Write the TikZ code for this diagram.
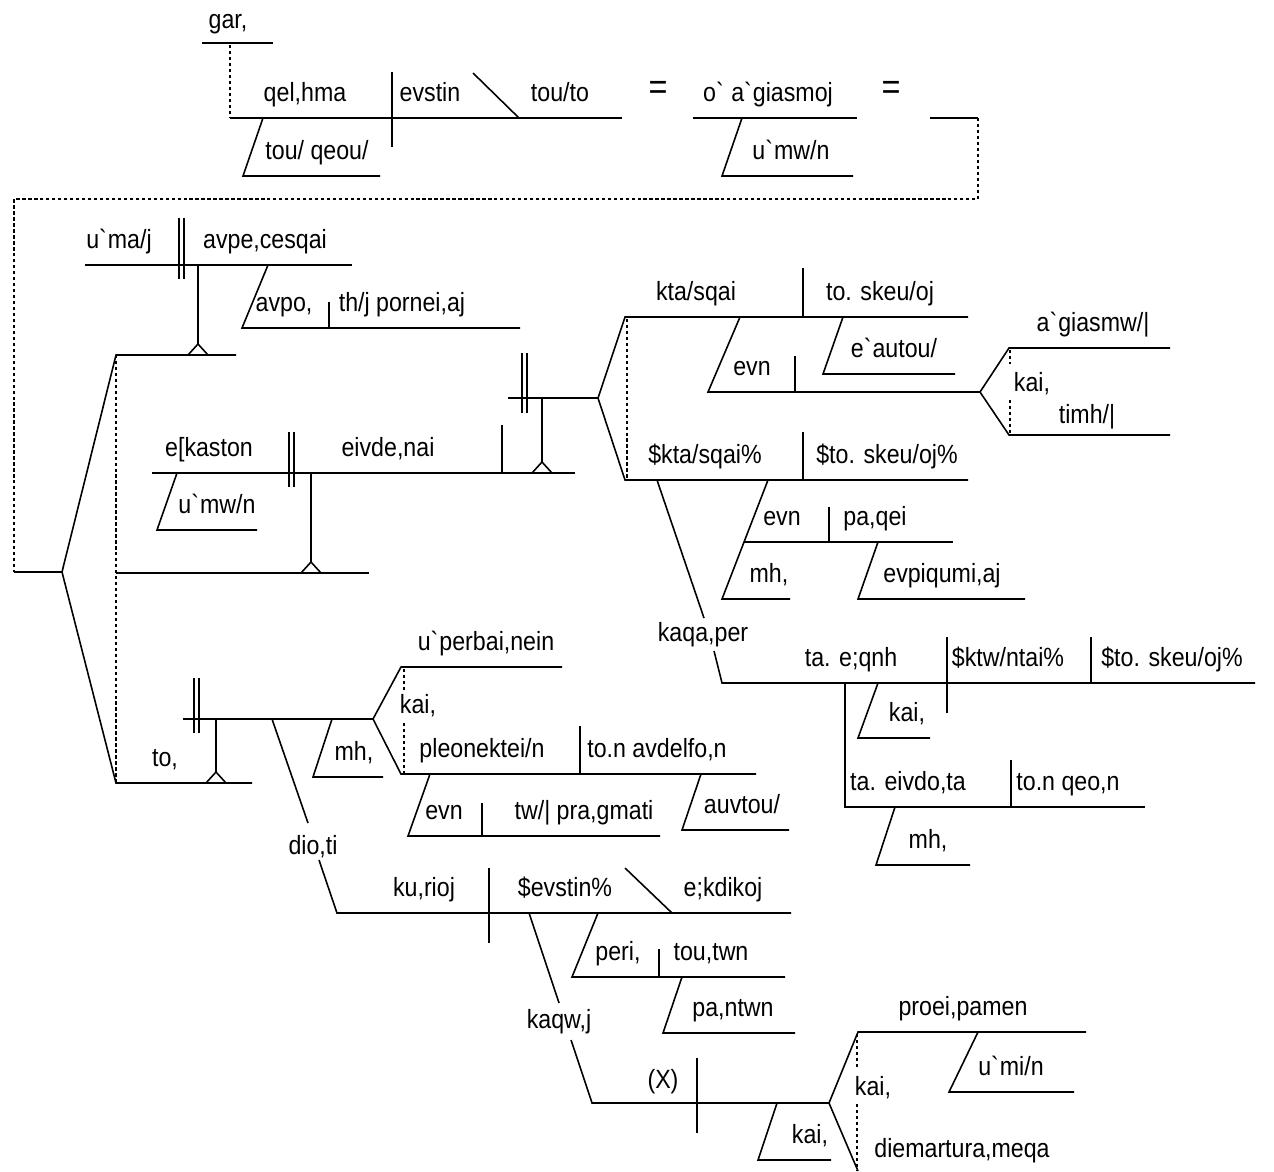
\documentclass[tikz,border=0pt]{standalone}
\usepackage{fontspec}
\setmainfont{Liberation Sans}[FakeStretch=0.88]
\newcommand{\grv}{\textasciigrave}
\newcommand{\tent}[1]{\draw (#1) ++(-10,0) -- ++(10,-11) -- ++(10,11);}
\newcommand{\wrd}[3]{\node[word] (#1) at (#2) {#3};}
\tikzset{
	word/.style={anchor=base, inner sep=0pt, font=\fontsize{15}{18}\selectfont},
	equal/.style={word, font=\fontsize{21}{24}\selectfont},
	dots/.style={line width=1.2pt, dash pattern=on 1.9pt off 1.5pt},
}

\begin{document}
\begin{tikzpicture}[x=0.02cm, y=-0.02cm, line width=0.9pt]
	\useasboundingbox (0,0) rectangle (1274,1171);
	%TOP CLAUSE
	\draw (202,43) -- (273,43);
	\draw[dots] (230,45) -- (230,118);
	\draw (230,118) -- (622,118);
	\draw (392,72) -- (392,147);
	\draw (473,73) -- (519,118);
	\draw (263,118) -- (243,176) -- (380,176);
	\draw (693,118) -- (857,118);
	\draw (742,118) -- (722,176) -- (853,176);
	\draw (930,118) -- (978,118);
	\draw[dots] (978,118) -- (978,199) -- (14,199) -- (14,572);
	\wrd{gar}{228,28}{gar,}
	\wrd{thelema}{305,101}{qel,hma}
	\wrd{estin}{430,101}{evstin}
	\wrd{touto}{560,101}{tou/to}
	\node[equal] (eqA) at (658,99) {=};
	\wrd{hagiasmos}{768,101}{o\grv{} a\grv{}giasmoj}
	\node[equal] (eqB) at (891,99) {=};
	\wrd{theou}{317,159}{tou/ qeou/}
	\wrd{hymonA}{791,159}{u\grv{}mw/n}
	%LEFT FORK
	\draw (14,572) -- (62,572);
	\draw (236,355) -- (116,355) -- (62,572) -- (116,783) -- (252,783);
	\draw[dots] (116,355) -- (116,783);
	\draw (116,573) -- (369,573);
	%APECHESTHAI
	\draw (85,265) -- (352,265);
	\draw (179,218) -- (179,279);
	\draw (184,218) -- (184,279);
	\draw (198,265) -- (198,344);
	\tent{198,355}
	\draw (268,265) -- (242,328) -- (520,328);
	\draw (329,302) -- (329,328);
	\wrd{hymas}{119,248}{u\grv{}ma/j}
	\wrd{apechesthai}{265,248}{avpe,cesqai}
	\wrd{apo}{284,311}{avpo,}
	\wrd{porneias}{402,311}{th/j pornei,aj}
	%EIDENAI
	\draw (152,473) -- (575,473);
	\draw (289,432) -- (289,487);
	\draw (294,432) -- (294,487);
	\draw (177,473) -- (157,530) -- (257,530);
	\draw (311,473) -- (311,562);
	\tent{311,573}
	\draw (502,425) -- (502,473);
	\draw (542,398) -- (542,462);
	\tent{542,473}
	\wrd{hekaston}{209,456}{e[kaston}
	\wrd{eidenai}{388,456}{eivde,nai}
	\wrd{hymonB}{217,513}{u\grv{}mw/n}
	%KTASTHAI
	\draw (508,398) -- (598,398);
	\draw (522,353) -- (522,413);
	\draw (527,353) -- (527,413);
	\draw (968,317) -- (625,317) -- (598,398) -- (625,480) -- (968,480);
	\draw[dots] (627,319) -- (627,480);
	\draw (803,268) -- (803,317);
	\draw (740,317) -- (708,392) -- (980,392);
	\draw (795,356) -- (795,392);
	\draw (843,317) -- (823,374) -- (955,374);
	\draw (1170,348) -- (1009,348) -- (980,392) -- (1009,435) -- (1170,435);
	\draw[dots] (1010,350) -- (1010,364);
	\draw[dots] (1010,400) -- (1010,435);
	\draw (803,432) -- (803,480);
	\draw (768,480) -- (722,599) -- (790,599);
	\draw (744,542) -- (953,542);
	\draw (829,507) -- (829,542);
	\draw (878,542) -- (858,599) -- (1025,599);
	\wrd{ktasthai}{696,300}{kta/sqai}
	\wrd{skeuos}{880,300}{to. skeu/oj}
	\wrd{enA}{752,375}{evn}
	\wrd{heautou}{894,357}{e\grv{}autou/}
	\wrd{hagiasmo}{1093,331}{a\grv{}giasmw/|}
	\wrd{kaiA}{1032,391}{kai,}
	\wrd{time}{1087,423}{timh/|}
	\wrd{ktasthaiB}{705,463}{\$kta/sqai\%}
	\wrd{skeuosB}{887,463}{\$to. skeu/oj\%}
	\wrd{enB}{782,525}{evn}
	\wrd{pathei}{875,525}{pa,qei}
	\wrd{meA}{769,582}{mh,}
	\wrd{epithymias}{942,582}{evpiqumi,aj}
	%KATHAPER
	\draw (657,480) -- (704,618);
	\draw (714,651) -- (722,683) -- (1255,683);
	\draw (947,637) -- (947,713);
	\draw (1091,637) -- (1091,683);
	\draw (878,683) -- (858,738) -- (930,738);
	\draw (845,683) -- (845,807) -- (1145,807);
	\draw (1011,760) -- (1011,807);
	\draw (895,807) -- (876,865) -- (970,865);
	\wrd{kathaper}{703,641}{kaqa,per}
	\wrd{ethne}{851,666}{ta. e;qnh}
	\wrd{ktontai}{1008,666}{\$ktw/ntai\%}
	\wrd{skeuosC}{1172,666}{\$to. skeu/oj\%}
	\wrd{kaiB}{907,721}{kai,}
	\wrd{eidota}{908,790}{ta. eivdo,ta}
	\wrd{theon}{1068,790}{to.n qeo,n}
	\wrd{meB}{928,848}{mh,}
	%TO CLAUSE
	\draw (183,719) -- (373,719);
	\draw (194,678) -- (194,733);
	\draw (199,678) -- (199,733);
	\draw (216,719) -- (216,772);
	\tent{216,783}
	\draw (332,719) -- (313,777) -- (383,777);
	\draw (562,667) -- (401,667) -- (373,719) -- (401,774) -- (756,774);
	\draw[dots] (404,669) -- (404,692);
	\draw[dots] (404,723) -- (404,774);
	\draw (580,726) -- (580,774);
	\draw (430,774) -- (408,836) -- (660,836);
	\draw (482,803) -- (482,836);
	\draw (701,774) -- (682,830) -- (789,830);
	\wrd{to}{165,766}{to,}
	\wrd{meC}{354,760}{mh,}
	\wrd{hyperbainein}{486,650}{u\grv{}perbai,nein}
	\wrd{kaiC}{418,713}{kai,}
	\wrd{pleonektein}{482,757}{pleonektei/n}
	\wrd{adelphon}{657,757}{to.n avdelfo,n}
	\wrd{enC}{444,819}{evn}
	\wrd{pragmati}{584,819}{tw/| pra,gmati}
	\wrd{autou}{742,813}{auvtou/}
	%DIOTI
	\draw (272,719) -- (308,823);
	\draw (319,860) -- (337,913) -- (791,913);
	\draw (489,868) -- (489,943);
	\draw (625,868) -- (672,913);
	\draw (598,913) -- (572,977) -- (785,977);
	\draw (659,949) -- (659,977);
	\draw (682,977) -- (663,1033) -- (795,1033);
	\wrd{dioti}{313,854}{dio,ti}
	\wrd{kyrios}{424,896}{ku,rioj}
	\wrd{estinB}{565,896}{\$evstin\%}
	\wrd{ekdikos}{723,896}{e;kdikoj}
	\wrd{peri}{618,960}{peri,}
	\wrd{touton}{711,960}{tou,twn}
	\wrd{panton}{733,1016}{pa,ntwn}
	%KATHOS
	\draw (529,913) -- (559,1003);
	\draw (571,1040) -- (592,1103) -- (829,1103);
	\draw (697,1058) -- (697,1133);
	\draw (777,1103) -- (758,1160) -- (831,1160);
	\draw (1086,1032) -- (858,1032) -- (829,1103) -- (858,1171);
	\draw (978,1032) -- (949,1092) -- (1074,1092);
	\draw[dots] (857,1034) -- (857,1068);
	\draw[dots] (857,1104) -- (857,1171);
	\wrd{kathos}{559,1028}{kaqw,j}
	\wrd{X}{663,1088}{(X)}
	\wrd{kaiD}{810,1143}{kai,}
	\wrd{proeipamen}{963,1015}{proei,pamen}
	\wrd{hymin}{1011,1075}{u\grv{}mi/n}
	\wrd{kaiE}{873,1095}{kai,}
	\wrd{diemartyrametha}{962,1157}{diemartura,meqa}
\end{tikzpicture}
\end{document}
